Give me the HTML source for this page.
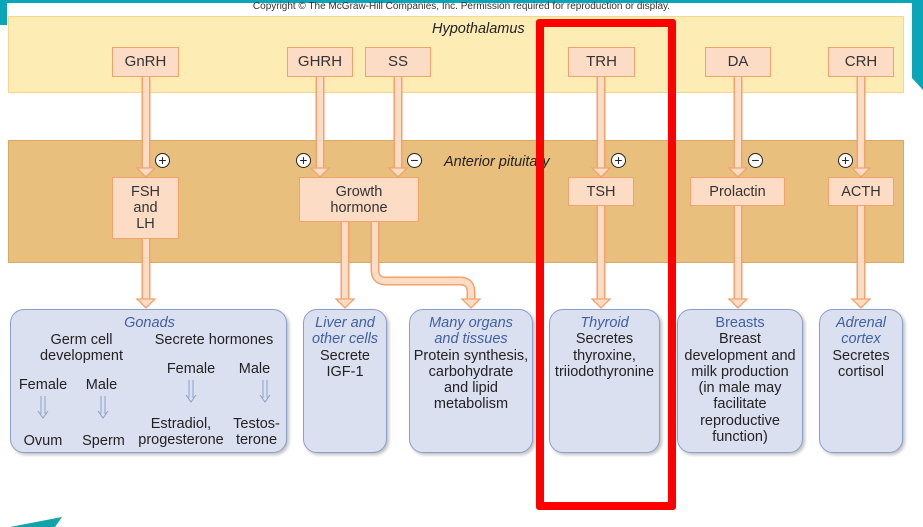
<!DOCTYPE html>
<html><head><meta charset="utf-8"><style>
body{margin:0;width:923px;height:527px;overflow:hidden;background:#fff;position:relative;font-family:"Liberation Sans",sans-serif;}
.a{position:absolute;}
.bx{position:absolute;background:#fcdcc4;border:1.5px solid #f3a26c;box-sizing:border-box;font-size:14.5px;color:#333;text-align:center;display:flex;align-items:center;justify-content:center;line-height:16px;}
.t{position:absolute;background:#dbe0f0;border:1.5px solid #8b9fcb;border-radius:14px;box-sizing:border-box;font-size:14.5px;color:#222;text-align:center;line-height:16.3px;box-shadow:2px 2px 3px rgba(0,0,0,.25);}
.t i{color:#3f5fa6;}
.b{color:#3f5fa6;}
.pm{position:absolute;width:15px;height:15px;border:1.3px solid #222;border-radius:50%;background:#fff;font-size:14px;line-height:13px;text-align:center;color:#222;box-sizing:border-box;}
</style></head><body>
<div class="a" style="left:0;top:0;width:923px;height:3px;background:#0aa6b8"></div>
<div class="a" style="left:0;top:0;width:7px;height:25px;background:#0aa6b8"></div>
<svg class="a" style="left:0;top:0" width="923" height="527">
<polygon points="912,0 923,0 923,90 912,78" fill="#0aa6b8"/>
<polygon points="10,527 62,517 55,527" fill="#13a3a8"/>
</svg>
<div class="a" style="left:0;top:1px;width:923px;text-align:center;font-size:10px;color:#333;">Copyright © The McGraw-Hill Companies, Inc. Permission required for reproduction or display.</div>
<div class="a" style="left:8px;top:16px;width:896px;height:77px;background:#fdedb5;border:1px solid #f5d98a;box-sizing:border-box"></div>
<div class="a" style="left:432px;top:21px;font-size:14.5px;font-style:italic;color:#222">Hypothalamus</div>
<div class="a" style="left:8px;top:140px;width:896px;height:123px;background:#e8bf7d;border:1px solid #d9a966;box-sizing:border-box"></div>
<div class="a" style="left:444px;top:154px;font-size:14.5px;font-style:italic;color:#222">Anterior pituitary</div>
<svg class="a" style="left:0;top:0" width="923" height="527">
<g fill="none" stroke-linejoin="round">
<g stroke="#f3a26c" stroke-width="9">
<path d="M146 77V170M320 77V170M398 77V170M601 77V170M738 77V170M861 77V170"/>
<path d="M146 239V300M345 222V300M601 206V300M738 206V300M861 206V300"/>
<path d="M375 222V270Q375 281 386 281H460Q471 281 471 292V300"/>
</g>
<g stroke="#fcdcc4" stroke-width="6">
<path d="M146 77V171M320 77V171M398 77V171M601 77V171M738 77V171M861 77V171"/>
<path d="M146 238V301M345 221V301M601 205V301M738 205V301M861 205V301"/>
<path d="M375 221V270Q375 281 386 281H460Q471 281 471 292V301"/>
</g>
</g>
<g fill="#fcdcc4" stroke="#f3a26c" stroke-width="1.3">
<polygon points="137,168 155,168 146,177"/><polygon points="311,168 329,168 320,177"/><polygon points="389,168 407,168 398,177"/>
<polygon points="592,168 610,168 601,177"/><polygon points="729,168 747,168 738,177"/><polygon points="852,168 870,168 861,177"/>
<polygon points="137,299 155,299 146,308"/><polygon points="336,299 354,299 345,308"/><polygon points="462,299 480,299 471,308"/>
<polygon points="592,299 610,299 601,308"/><polygon points="729,299 747,299 738,308"/><polygon points="852,299 870,299 861,308"/>
</g>
</svg>
<div class="bx" style="left:112px;top:47px;width:67px;height:30px;font-size:15px">GnRH</div>
<div class="bx" style="left:287px;top:47px;width:66px;height:30px;font-size:15px">GHRH</div>
<div class="bx" style="left:365px;top:47px;width:66px;height:30px;font-size:15px">SS</div>
<div class="bx" style="left:568px;top:47px;width:67px;height:30px;font-size:15px">TRH</div>
<div class="bx" style="left:705px;top:47px;width:66px;height:30px;font-size:15px">DA</div>
<div class="bx" style="left:828px;top:47px;width:66px;height:30px;font-size:15px">CRH</div>
<div class="bx" style="left:112px;top:177px;width:67px;height:62px">FSH<br>and<br>LH</div>
<div class="bx" style="left:299px;top:177px;width:120px;height:45px">Growth<br>hormone</div>
<div class="bx" style="left:568px;top:177px;width:66px;height:29px">TSH</div>
<div class="bx" style="left:690px;top:177px;width:95px;height:29px">Prolactin</div>
<div class="bx" style="left:828px;top:177px;width:66px;height:29px">ACTH</div>
<div class="pm" style="left:155px;top:153px">+</div>
<div class="pm" style="left:296px;top:153px">+</div>
<div class="pm" style="left:407px;top:153px">−</div>
<div class="pm" style="left:611px;top:153px">+</div>
<div class="pm" style="left:748px;top:153px">−</div>
<div class="pm" style="left:838px;top:153px">+</div>

<div class="t" style="left:10px;top:309px;width:277px;height:144px">
<div class="a b" style="left:0;width:277px;top:5px;font-style:italic">Gonads</div>
<div class="a" style="left:13px;top:22px;width:115px">Germ cell<br>development</div>
<div class="a" style="left:135px;top:22px;width:136px">Secrete hormones</div>
<div class="a" style="left:1px;top:67px;width:62px">Female</div>
<div class="a" style="left:63px;top:67px;width:55px">Male</div>
<div class="a" style="left:138px;top:51px;width:84px">Female</div>
<div class="a" style="left:216px;top:51px;width:55px">Male</div>
<div class="a" style="left:3px;top:123px;width:58px">Ovum</div>
<div class="a" style="left:63px;top:123px;width:59px">Sperm</div>
<div class="a" style="left:122px;top:106px;width:96px">Estradiol,<br>progesterone</div>
<div class="a" style="left:214px;top:106px;width:63px">Testos-<br>terone</div>
<svg class="a" style="left:0;top:0" width="277" height="144" fill="none" stroke="#8b9fcb" stroke-width="1">
<path d="M30 86V104M34 86V104M27 101L32 108L37 101M90 86V104M94 86V104M87 101L92 108L97 101M178 70V88M182 70V88M175 85L180 92L185 85M252 70V88M256 70V88M249 85L254 92L259 85"/>
</svg>
</div>
<div class="t" style="left:303px;top:309px;width:84px;height:144px;padding-top:5px"><i>Liver and<br>other cells</i><br>Secrete<br>IGF-1</div>
<div class="t" style="left:409px;top:309px;width:124px;height:144px;padding-top:5px"><i>Many organs<br>and tissues</i><br>Protein synthesis,<br>carbohydrate<br>and lipid<br>metabolism</div>
<div class="t" style="left:549px;top:309px;width:111px;height:144px;padding-top:5px"><i>Thyroid</i><br>Secretes<br>thyroxine,<br>triiodothyronine</div>
<div class="t" style="left:677px;top:309px;width:126px;height:144px;padding-top:5px"><span class="b">Breasts</span><br>Breast<br>development and<br>milk production<br>(in male may<br>facilitate<br>reproductive<br>function)</div>
<div class="t" style="left:819px;top:309px;width:84px;height:144px;padding-top:5px"><i>Adrenal<br>cortex</i><br>Secretes<br>cortisol</div>
<div class="a" style="left:536px;top:19px;width:140px;height:491px;border:8px solid #f00;border-radius:3px;box-sizing:border-box"></div>
</body></html>
